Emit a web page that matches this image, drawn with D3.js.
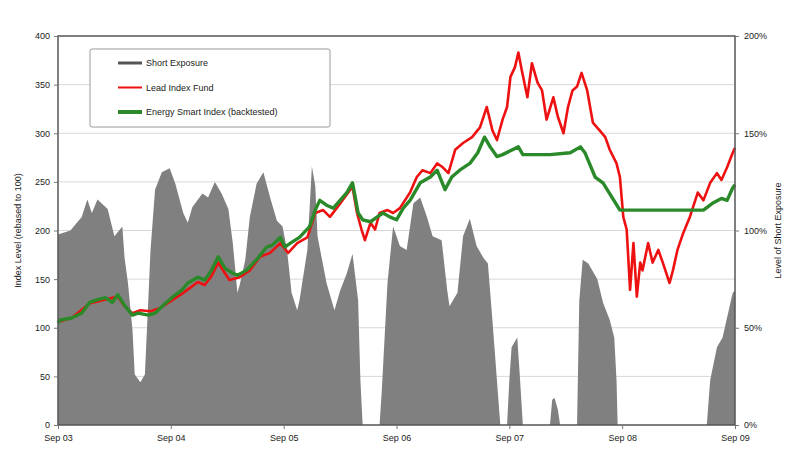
<!DOCTYPE html>
<html><head><meta charset="utf-8">
<script src="https://cdn.jsdelivr.net/npm/d3@7"></script>
<style>body{margin:0;background:#fff}svg{display:block}text{font-family:"Liberation Sans",Arial,sans-serif;fill:#222}</style>
</head><body><svg id="c" width="800" height="472"></svg>
<script>
// ---- data ----
const xTickValues = [2003.67, 2004.67, 2005.67, 2006.67, 2007.67, 2008.67, 2009.67];
const xTickLabels = ["Sep 03", "Sep 04", "Sep 05", "Sep 06", "Sep 07", "Sep 08", "Sep 09"];
const leftTicks = [0, 50, 100, 150, 200, 250, 300, 350, 400];
const rightTicks = [0, 50, 100, 150, 200];
const seriesNames = ["Short Exposure", "Lead Index Fund", "Energy Smart Index (backtested)"];

const exposureT = [2003.67,2003.78,2003.88,2003.93,2003.97,2004.02,2004.11,2004.17,2004.24,2004.26,2004.29,2004.33,2004.35,2004.40,2004.44,2004.47,2004.49,2004.53,2004.59,2004.66,2004.71,2004.78,2004.82,2004.86,2004.95,2005.00,2005.06,2005.12,2005.18,2005.22,2005.26,2005.28,2005.33,2005.37,2005.43,2005.49,2005.55,2005.61,2005.66,2005.70,2005.74,2005.79,2005.81,2005.88,2005.92,2005.95,2005.97,2006.05,2006.12,2006.17,2006.23,2006.28,2006.33,2006.35,2006.37,2006.52,2006.54,2006.59,2006.64,2006.70,2006.76,2006.82,2006.88,2006.94,2006.99,2007.07,2007.12,2007.14,2007.21,2007.26,2007.32,2007.38,2007.44,2007.48,2007.52,2007.56,2007.59,2007.65,2007.67,2007.69,2007.74,2007.76,2007.79,2008.03,2008.05,2008.07,2008.10,2008.12,2008.27,2008.29,2008.32,2008.37,2008.45,2008.50,2008.56,2008.60,2008.62,2008.63,2009.42,2009.45,2009.51,2009.56,2009.63,2009.65,2009.67];
const exposureV = [98,100,107,116,109,116,111,97,102,86,73,49,26,22,26,64,90,121,130,132,124,109,104,112,119,117,125,119,111,93,68,72,85,107,124,130,117,105,102,90,68,59,64,90,133,123,97,73,59,69,78,88,64,23,0,0,18,73,102,92,90,114,117,107,97,95,69,61,68,97,106,92,86,83,54,23,0,0,23,40,45,28,0,0,13,14,8,0,0,64,85,83,75,63,54,45,23,0,0,23,40,45,63,68,69];

const fundT = [2003.67,2003.79,2003.95,2004.09,2004.20,2004.26,2004.33,2004.40,2004.49,2004.57,2004.69,2004.77,2004.84,2004.91,2004.97,2005.03,2005.09,2005.15,2005.19,2005.28,2005.37,2005.46,2005.55,2005.64,2005.71,2005.79,2005.88,2005.95,2006.02,2006.08,2006.14,2006.21,2006.28,2006.32,2006.36,2006.39,2006.44,2006.48,2006.52,2006.59,2006.64,2006.70,2006.79,2006.85,2006.90,2006.97,2007.03,2007.08,2007.13,2007.19,2007.26,2007.34,2007.41,2007.47,2007.52,2007.56,2007.61,2007.65,2007.68,2007.72,2007.75,2007.78,2007.83,2007.87,2007.92,2007.96,2008.00,2008.06,2008.10,2008.15,2008.19,2008.23,2008.27,2008.31,2008.36,2008.41,2008.47,2008.52,2008.56,2008.62,2008.65,2008.68,2008.71,2008.74,2008.77,2008.80,2008.83,2008.85,2008.90,2008.94,2008.99,2009.03,2009.09,2009.12,2009.16,2009.21,2009.27,2009.34,2009.39,2009.45,2009.51,2009.55,2009.60,2009.65,2009.67];
const fundV = [106,110,125,129,132,122,115,118,117,120,129,135,141,147,144,153,167,156,149,152,159,173,177,187,177,187,193,218,221,214,223,234,245,218,201,190,208,201,218,221,218,223,239,255,262,259,269,265,259,283,290,296,306,327,303,293,314,327,358,368,383,365,337,372,352,344,314,337,317,300,327,344,348,362,344,311,303,296,283,269,255,214,201,139,187,132,167,159,187,167,180,167,146,159,180,197,214,239,231,249,259,252,265,280,285];

const smartT = [2003.67,2003.69,2003.79,2003.88,2003.95,2004.02,2004.09,2004.15,2004.20,2004.26,2004.33,2004.38,2004.47,2004.53,2004.62,2004.69,2004.77,2004.82,2004.91,2004.97,2005.03,2005.09,2005.15,2005.22,2005.26,2005.34,2005.43,2005.52,2005.57,2005.64,2005.68,2005.73,2005.81,2005.90,2005.95,2005.99,2006.05,2006.11,2006.17,2006.23,2006.28,2006.30,2006.33,2006.37,2006.44,2006.50,2006.55,2006.61,2006.67,2006.73,2006.79,2006.88,2006.97,2007.03,2007.10,2007.16,2007.23,2007.32,2007.39,2007.45,2007.50,2007.56,2007.61,2007.75,2007.79,2008.03,2008.21,2008.30,2008.34,2008.38,2008.43,2008.50,2008.58,2008.65,2009.30,2009.39,2009.47,2009.55,2009.60,2009.65,2009.67];
const smartV = [105,108,110,115,126,129,131,126,134,123,113,115,113,115,125,132,139,146,152,149,159,173,161,156,154,159,170,183,185,193,183,187,193,204,221,231,226,223,231,239,249,237,218,211,209,214,218,214,211,223,231,249,255,262,242,255,262,269,280,296,286,276,278,286,278,278,280,286,280,269,255,249,234,221,221,221,228,233,231,244,247];

// ---- chart ----
const svg = d3.select("#c");
const m = {l: 58, r: 735, t: 36, b: 425};
const x = d3.scaleLinear().domain([2003.67, 2009.67]).range([m.l, m.r]);
const yL = d3.scaleLinear().domain([0, 400]).range([m.b, m.t]);
const yR = d3.scaleLinear().domain([0, 200]).range([m.b, m.t]);
const zip = (a, b) => a.slice(0, Math.min(a.length, b.length)).map((t, i) => [t, b[i]]);

// gridlines
svg.append("g").selectAll("line").data(leftTicks.filter(d => d > 0 && d < 400)).join("line")
  .attr("x1", m.l).attr("x2", m.r).attr("y1", d => yL(d)).attr("y2", d => yL(d))
  .attr("stroke", "#d8d8d8").attr("stroke-width", 1);

// exposure area
svg.append("path").datum(zip(exposureT, exposureV))
  .attr("d", d3.area().x(d => x(d[0])).y0(yR(0)).y1(d => yR(d[1])))
  .attr("fill", "#808080");

// fund line
svg.append("path").datum(zip(fundT, fundV))
  .attr("d", d3.line().x(d => x(d[0])).y(d => yL(d[1])))
  .attr("fill", "none").attr("stroke", "#ee1111").attr("stroke-width", 2.6).attr("stroke-linejoin", "round");

// smart line
svg.append("path").datum(zip(smartT, smartV))
  .attr("d", d3.line().x(d => x(d[0])).y(d => yL(d[1])))
  .attr("fill", "none").attr("stroke", "#2a8a2a").attr("stroke-width", 3.4).attr("stroke-linejoin", "round");

// frame
svg.append("rect").attr("x", m.l).attr("y", m.t).attr("width", m.r - m.l).attr("height", m.b - m.t)
  .attr("fill", "none").attr("stroke", "#555").attr("stroke-width", 1.5);

// axes
const fs = 9;
const ax = svg.append("g").attr("transform", `translate(0,${m.b})`)
  .call(d3.axisBottom(x).tickValues(xTickValues).tickFormat((d, i) => xTickLabels[i]).tickSize(4).tickPadding(6));
const al = svg.append("g").attr("transform", `translate(${m.l},0)`)
  .call(d3.axisLeft(yL).tickValues(leftTicks).tickFormat(d3.format("d")).tickSize(4).tickPadding(4));
const ar = svg.append("g").attr("transform", `translate(${m.r},0)`)
  .call(d3.axisRight(yR).tickValues(rightTicks).tickFormat(d => d + "%").tickSize(4).tickPadding(5));
[ax, al, ar].forEach(g => {
  g.select(".domain").remove();
  g.selectAll(".tick line").attr("stroke", "#777");
  g.selectAll("text").attr("font-size", fs).attr("font-family", '"Liberation Sans",Arial,sans-serif').attr("fill", "#222");
});

// axis titles
svg.append("text").attr("transform", `translate(21,${(m.t + m.b) / 2}) rotate(-90)`)
  .attr("text-anchor", "middle").attr("font-size", fs).text("Index Level (rebased to 100)");
svg.append("text").attr("transform", `translate(781,${(m.t + m.b) / 2}) rotate(-90)`)
  .attr("text-anchor", "middle").attr("font-size", fs).text("Level of Short Exposure");

// legend
const lg = svg.append("g");
lg.append("rect").attr("x", 90).attr("y", 49).attr("width", 240).attr("height", 78).attr("rx", 2)
  .attr("fill", "#fff").attr("stroke", "#999").attr("stroke-width", 1);
const legColors = ["#555", "#ee1111", "#2a8a2a"];
const legWidths = [3, 2, 4];
seriesNames.forEach((n, i) => {
  const yy = 63 + i * 24.5;
  lg.append("line").attr("x1", 118).attr("x2", 142).attr("y1", yy).attr("y2", yy)
    .attr("stroke", legColors[i]).attr("stroke-width", legWidths[i]);
  lg.append("text").attr("x", 146).attr("y", yy + 3).attr("font-size", fs).text(n);
});
</script></body></html>
